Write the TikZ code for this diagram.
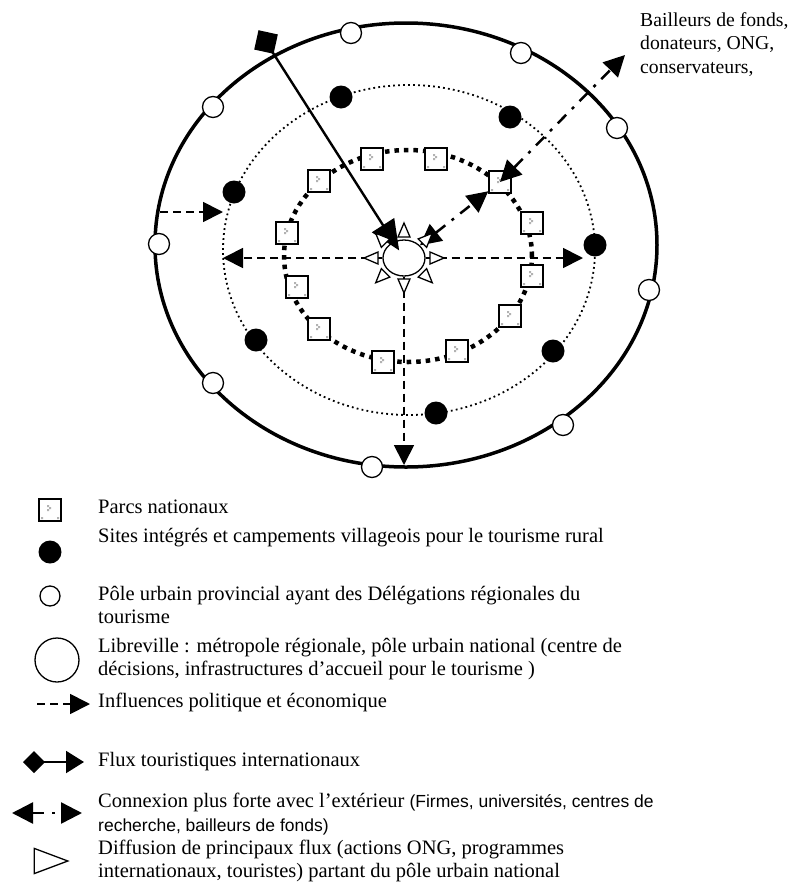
\documentclass[tikz,border=0pt]{standalone}
\usepackage{fontspec}
\setmainfont{Liberation Serif}
\newfontfamily\armfont{Liberation Sans}
\usetikzlibrary{arrows.meta,shapes.geometric,calc}

\newcommand{\sanspart}{\armfont\fontsize{17.5}{23.5}\selectfont}

\tikzset{
    ring/.style={line width=3.5pt},
    midring/.style={line width=1.8pt, dash pattern=on 1.8pt off 3.2pt},
    parcring/.style={line width=4.5pt, dash pattern=on 4.5pt off 5pt},
    urbain/.style={circle, draw, fill=white, line width=1.3pt, minimum size=21pt, inner sep=0pt},
    site/.style={circle, fill=black, minimum size=23pt, inner sep=0pt},
    lbvnode/.style={ellipse, draw, fill=white, line width=1.3pt, minimum width=42pt, minimum height=36pt, inner sep=0pt},
    parc/.style={draw, fill=white, line width=1.4pt, minimum size=22pt, inner sep=0pt,
        path picture={
            \fill[gray!60] ([shift={(-3pt,3pt)}]path picture bounding box.center) rectangle ++(2pt,2pt)
                ([shift={(-1pt,1pt)}]path picture bounding box.center) rectangle ++(2pt,2pt)
                ([shift={(-3pt,-1pt)}]path picture bounding box.center) rectangle ++(2pt,2pt)
                ([shift={(-9pt,-9pt)}]path picture bounding box.center) rectangle ++(2pt,2pt)
                ([shift={(7pt,-9pt)}]path picture bounding box.center) rectangle ++(2pt,2pt);
        }},
    infl/.style={line width=1.8pt, dash pattern=on 8pt off 5pt, -{Triangle[length=20pt,width=20pt]}},
    flux/.style={line width=2.4pt, {Diamond[length=28pt,width=28pt]}-{Triangle[length=30pt,width=26pt]}},
    fluxkey/.style={line width=2pt, {Diamond[length=22pt,width=22pt]}-{Triangle[length=18pt,width=22pt]}},
    cnx/.style={line width=2.5pt, dash pattern=on 12pt off 8pt on 3pt off 8pt,
        {Triangle[length=21pt,width=21pt]}-{Triangle[length=21pt,width=21pt]}},
    legtxt/.style={anchor=west, align=left, inner sep=0pt, font=\fontsize{20.5}{23.5}\selectfont},
    difftri/.pic={
        \draw[line width=1.3pt, fill=white] (7pt, 0) -- (-7pt, 6pt) -- (-7pt, -6pt) -- cycle;
    }
}

\begin{document}
\begin{tikzpicture}[x=1pt, y=1pt]

    % the frame
    \useasboundingbox (0, 0) rectangle (794, -884);

    % the rings
    \draw[ring] (406, -245) ellipse [x radius=251, y radius=222];
    \draw[midring] (409, -250) ellipse [x radius=186, y radius=165];
    \draw[parcring] (408, -256) ellipse [x radius=124, y radius=106];

    % Libreville
    \node[lbvnode] (lbv) at (404, -258) {};

    % influences
    \coordinate (bordW) at (160, -212);
    \coordinate (ringW) at (223, -212);
    \coordinate (westT) at (223, -258);
    \coordinate (eastT) at (583, -258);
    \coordinate (southT) at (404, -465);
    \draw[infl] (bordW) -- (ringW);
    \draw[infl] (lbv.west) -- (westT);
    \draw[infl] (lbv.east) -- (eastT);
    \draw[infl] (lbv.south) -- (southT);

    % provincial poles
    \foreach \x/\y [count=\i] in {213/107, 351/33, 521/53, 617/128, 159/244, 649/290, 213/383, 372/467, 563/425} {
        \node[urbain] (u\i) at (\x, -\y) {};
    };

    % rural sites
    \foreach \x/\y [count=\i] in {341/97, 510/117, 234/192, 595/245, 256/340, 553/351, 436/413} {
        \node[site] (s\i) at (\x, -\y) {};
    };

    % parks
    \foreach \x/\y [count=\i] in {372/159, 436/159, 319/181, 500/182, 287/233, 532/223, 532/276, 297/287, 510/316, 319/329, 457/351, 383/362} {
        \node[parc] (p\i) at (\x, -\y) {};
    };

    % tourist flow
    \coordinate (entry) at (258.5, -30.2);
    \draw[flux, shorten >=9pt] (entry) -- (lbv.center);

    % links abroad
    \coordinate (donors) at (625, -55);
    \draw[cnx] (lbv) -- (p4);
    \draw[cnx] (p4.center) -- (donors);

    % diffusion
    \foreach \a in {0,45,...,315} {
        \pic[rotate=\a] at ($(lbv.center)+(\a:33 and 28)$) {difftri};
    };

    \node[legtxt, anchor=north west, font=\fontsize{19.7}{23.5}\selectfont] (donlbl) at (640, -12) {Bailleurs de fonds,\\donateurs, ONG,\\conservateurs,};

    % legend
    \node[parc] (kparc) at (50, -510) {};
    \node[legtxt] (tparc) at (98, -507) {Parcs nationaux};
    \node[site] (ksite) at (50, -552) {};
    \node[legtxt] (tsite) at (98, -538) {Sites intégrés et campements villageois pour le tourisme rural};
    \node[urbain, minimum size=20pt] (kurb) at (50, -596) {};
    \node[legtxt] (turb) at (98, -605) {Pôle urbain provincial ayant des Délégations régionales du\\tourisme};
    \node[urbain, minimum size=44pt] (klbv) at (57, -660) {};
    \node[legtxt] (tlbv) at (98, -659) {Libreville : métropole régionale, pôle urbain national (centre de\\décisions, infrastructures d’accueil pour le tourisme )};
    \coordinate (kinfA) at (37, -704);
    \coordinate (kinfB) at (90, -704);
    \draw[infl] (kinfA) -- (kinfB);
    \node[legtxt] (tinfl) at (98, -702) {Influences politique et économique};
    \coordinate (kfluxA) at (23, -762);
    \coordinate (kfluxB) at (84, -762);
    \draw[fluxkey] (kfluxA) -- (kfluxB);
    \node[legtxt] (tflux) at (98, -762) {Flux touristiques internationaux};
    \coordinate (kcnxA) at (12, -813);
    \coordinate (kcnxB) at (82, -813);
    \draw[cnx] (kcnxA) -- (kcnxB);
    \node[legtxt] (tcnx) at (98, -814) {Connexion plus forte avec l’extérieur {\sanspart (Firmes, universités, centres de}\\{\sanspart recherche, bailleurs de fonds)}};
    \pic[xscale=2.4, yscale=2.1] at (51, -861) {difftri};
    \node[legtxt] (tdiff) at (98, -861) {Diffusion de principaux flux (actions ONG, programmes\\internationaux, touristes) partant du pôle urbain national};
\end{tikzpicture}
\end{document}
